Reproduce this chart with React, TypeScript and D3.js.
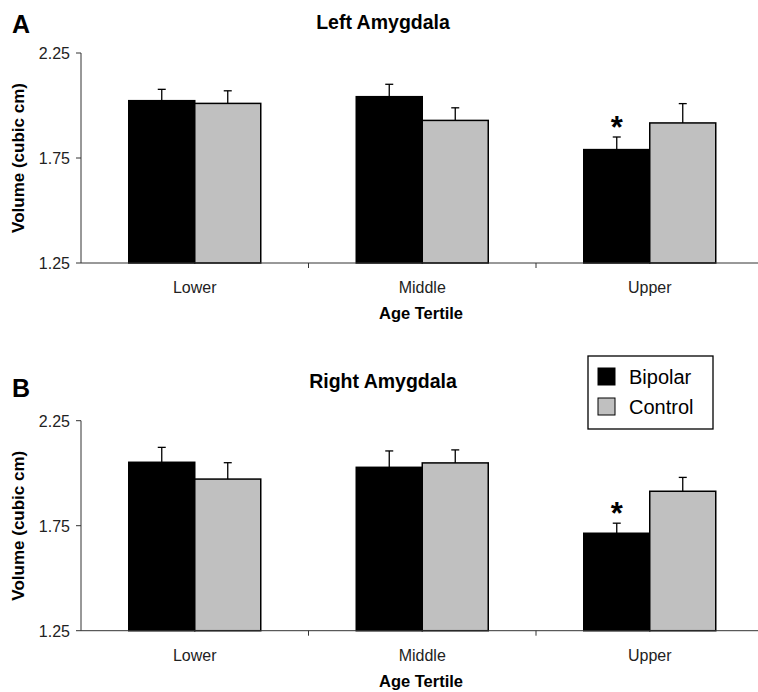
import React from "react";
import * as d3 from "d3";

const categories = ["Lower", "Middle", "Upper"];
const seriesNames = ["Bipolar", "Control"];
const seriesColors = ["#000000", "#c0c0c0"];
const yTicks = [1.25, 1.75, 2.25];

const leftBipolar = [2.023, 2.042, 1.79];
const leftBipolarErr = [0.054, 0.059, 0.06];
const leftControl = [2.01, 1.929, 1.917];
const leftControlErr = [0.06, 0.06, 0.092];

const rightBipolar = [2.052, 2.028, 1.714];
const rightBipolarErr = [0.071, 0.078, 0.048];
const rightControl = [1.972, 2.049, 1.914];
const rightControlErr = [0.078, 0.062, 0.066];

const panels = [
  { letter: "A", title: "Left Amygdala", values: [leftBipolar, leftControl], errs: [leftBipolarErr, leftControlErr], sig: [false, false, true], top: 53, letterY: 33, titleY: 29 },
  { letter: "B", title: "Right Amygdala", values: [rightBipolar, rightControl], errs: [rightBipolarErr, rightControlErr], sig: [false, false, true], top: 420.7, letterY: 397, titleY: 388 },
];

const FONT = "'Liberation Sans', Arial, sans-serif";
const AXIS_LEFT = 81;
const AXIS_RIGHT = 763.5;
const PLOT_H = 210;
const GROUP_W = 132;

function Panel({ p }: { p: typeof panels[number] }) {
  const y = d3.scaleLinear().domain([1.25, 2.25]).range([p.top + PLOT_H, p.top]);
  const x0 = d3.scaleBand().domain(categories).range([AXIS_LEFT, AXIS_RIGHT]).padding(0);
  const x1 = d3.scaleBand().domain(seriesNames).range([0, GROUP_W]).padding(0);
  const off = (x0.bandwidth() - GROUP_W) / 2;
  const base = y(1.25);
  return (
    <g>
      <text x={12} y={p.letterY} fontFamily={FONT} fontWeight="bold" fontSize={25}>{p.letter}</text>
      <text x={383} y={p.titleY} textAnchor="middle" fontFamily={FONT} fontWeight="bold" fontSize={19.5}>{p.title}</text>
      <text transform={`translate(23.5,${p.top + PLOT_H / 2}) rotate(-90)`} textAnchor="middle" fontFamily={FONT} fontWeight="bold" fontSize={17}>Volume (cubic cm)</text>
      {yTicks.map((t) => (
        <g key={t}>
          <line x1={AXIS_LEFT - 5} x2={AXIS_LEFT} y1={y(t)} y2={y(t)} stroke="#333" strokeWidth={1} />
          <text x={AXIS_LEFT - 11} y={y(t) + 6} textAnchor="end" fontFamily={FONT} fontSize={16} fill="#222">{t.toFixed(2)}</text>
        </g>
      ))}
      {categories.map((c, ci) => (
        <g key={c}>
          {seriesNames.map((s, si) => {
            const v = p.values[si][ci];
            const e = p.errs[si][ci];
            const bx = (x0(c) as number) + off + (x1(s) as number);
            const bw = x1.bandwidth();
            const cx = bx + bw / 2;
            return (
              <g key={s}>
                <line x1={cx} x2={cx} y1={y(v)} y2={y(v + e)} stroke="#000" strokeWidth={1.3} />
                <line x1={cx - 4} x2={cx + 4} y1={y(v + e)} y2={y(v + e)} stroke="#000" strokeWidth={1.3} />
                <rect x={bx} y={y(v)} width={bw} height={base - y(v)} fill={seriesColors[si]} stroke="#000" strokeWidth={1.5} />
                {si === 0 && p.sig[ci] ? (
                  <text x={cx} y={y(v + e) + 1} textAnchor="middle" fontFamily={FONT} fontWeight="bold" fontSize={31}>*</text>
                ) : null}
              </g>
            );
          })}
          <text x={(x0(c) as number) + x0.bandwidth() / 2} y={base + 30} textAnchor="middle" fontFamily={FONT} fontSize={16} fill="#222">{c}</text>
          {ci > 0 ? (
            <line x1={x0(c) as number} x2={x0(c) as number} y1={base} y2={base + 5} stroke="#333" strokeWidth={1} />
          ) : null}
        </g>
      ))}
      <line x1={AXIS_LEFT} x2={AXIS_LEFT} y1={p.top} y2={base} stroke="#333" strokeWidth={1} />
      <line x1={AXIS_LEFT} x2={AXIS_RIGHT} y1={base} y2={base} stroke="#333" strokeWidth={1} />
      <text x={421} y={base + 56} textAnchor="middle" fontFamily={FONT} fontWeight="bold" fontSize={16.5}>Age Tertile</text>
    </g>
  );
}

export default function App() {
  return (
    <div style={{ position: "absolute", left: 0, top: 0 }}>
      <svg width={758} height={692} style={{ display: "block", background: "#fff" }}>
        {panels.map((p) => (
          <Panel key={p.letter} p={p} />
        ))}
        <g>
          <rect x={588} y={356} width={125} height={73} fill="#fff" stroke="#000" strokeWidth={1.3} />
          {seriesNames.map((s, i) => (
            <g key={s}>
              <rect x={598} y={368 + i * 30} width={17} height={17} fill={seriesColors[i]} stroke="#000" strokeWidth={1} />
              <text x={629} y={384 + i * 30} fontFamily={FONT} fontSize={20}>{s}</text>
            </g>
          ))}
        </g>
      </svg>
    </div>
  );
}
